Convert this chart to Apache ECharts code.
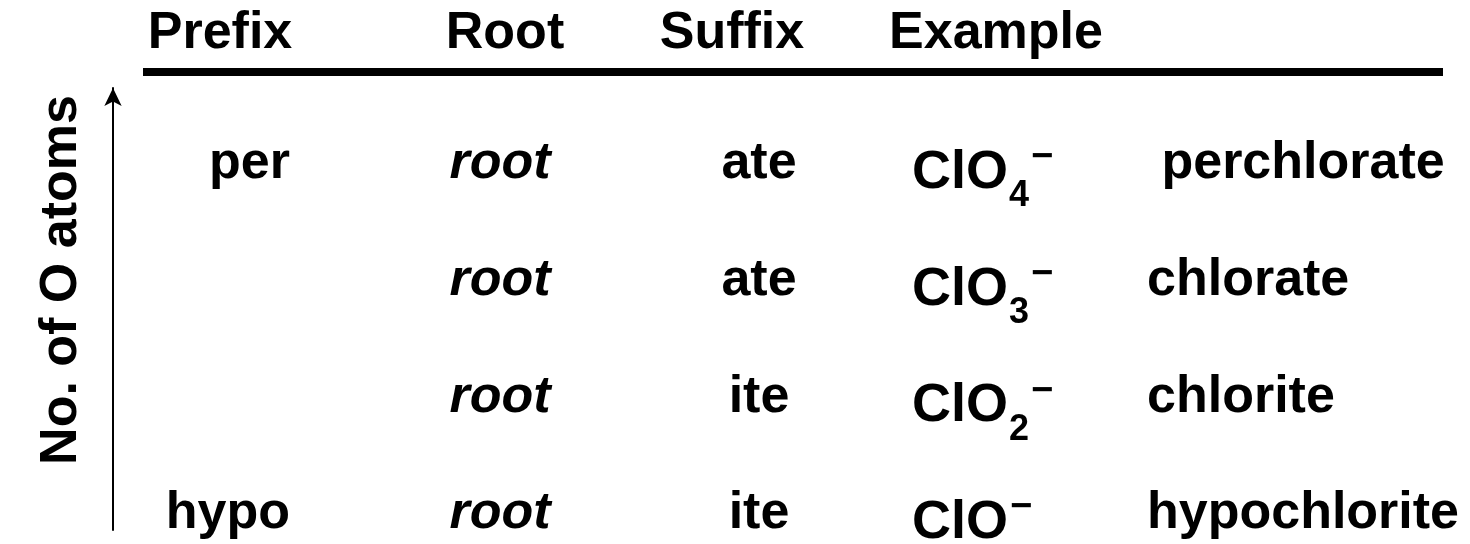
<!DOCTYPE html>
<html>
<head>
<meta charset="utf-8">
<script src="https://cdn.jsdelivr.net/npm/echarts@6/dist/echarts.min.js"></script>
<style>html,body{margin:0;padding:0;background:#fff}#c{width:1470px;height:544px}</style>
</head>
<body>
<div id="c"></div>
<script>
// ---- data ----
const columns = ['Prefix', 'Root', 'Suffix', 'Formula', 'Name'];
const headers = ['Prefix', 'Root', 'Suffix', 'Example', ''];
const oAtoms = ['1', '2', '3', '4'];              // rows, bottom to top
const prefixes = ['hypo', '', '', 'per'];
const roots = ['root', 'root', 'root', 'root'];
const suffixes = ['ite', 'ite', 'ate', 'ate'];
const formulaBase = ['ClO', 'ClO', 'ClO', 'ClO'];
const formulaSub = ['', '2', '3', '4'];
const charges = ['\u2212', '\u2212', '\u2212', '\u2212'];
const names = ['hypochlorite', 'chlorite', 'chlorate', ' perchlorate'];
const axisTitle = 'No. of O atoms';

// ---- style ----
const FONT = '"Liberation Sans", Arial, Helvetica, sans-serif';
const FS = 52;
const headerShift = { Prefix: 106, Root: 56, Suffix: 122, Example: 114 };

const chart = echarts.init(document.getElementById('c'));

const headerRich = {};
Object.keys(headerShift).forEach(k => {
  headerRich['h' + k] = { fontFamily: FONT, fontSize: FS, fontWeight: 'bold', color: '#000',
    padding: [0, headerShift[k], 0, 0] };
});

function colSeries(colIdx, texts, labelOpt) {
  return {
    type: 'scatter', xAxisIndex: 0, yAxisIndex: 0, symbolSize: 0, silent: true,
    itemStyle: { opacity: 1 },
    data: oAtoms.map((o, i) => ({ value: [columns[colIdx], o], txt: texts[i] })),
    label: Object.assign({
      show: true, position: 'inside', color: '#000', opacity: 1,
      fontFamily: FONT, fontSize: FS, fontWeight: 'bold',
      formatter: p => p.data.txt
    }, labelOpt)
  };
}

const formulas = oAtoms.map((o, i) =>
  '{b|' + formulaBase[i] + '}' + (formulaSub[i] ? '{s|' + formulaSub[i] + '}' : '') + '{c|' + charges[i] + '}');

const option = {
  backgroundColor: '#fff',
  animation: false,
  grid: [
    { left: 143, width: 1300, top: 164, height: 350 },
    { left: 113, width: 1, top: 88, height: 442 }
  ],
  xAxis: [
    {
      type: 'category', gridIndex: 0, data: columns, position: 'top', offset: 92,
      axisLine: { show: true, lineStyle: { color: '#000', width: 8, cap: 'butt' } },
      axisTick: { show: false }, splitLine: { show: false },
      axisLabel: {
        show: true, margin: 12, interval: 0,
        formatter: (v, i) => headers[i] ? '{h' + headers[i] + '|' + headers[i] + '}' : '',
        rich: headerRich
      }
    },
    { type: 'value', gridIndex: 1, show: false, min: 0, max: 1 }
  ],
  yAxis: [
    { type: 'category', gridIndex: 0, data: oAtoms, show: false, boundaryGap: false },
    {
      type: 'value', gridIndex: 1, min: 0, max: 1,
      axisLine: { show: true, symbol: ['none', 'arrow'], symbolSize: [13, 18],
        lineStyle: { color: '#000', width: 2 } },
      axisTick: { show: false }, axisLabel: { show: false }, splitLine: { show: false },
      name: axisTitle, nameLocation: 'middle', nameRotate: 90, nameGap: 25,
      nameTextStyle: { fontFamily: FONT, fontSize: FS, fontWeight: 'bold', color: '#000',
        padding: [0, 0, 0, 58] }
    }
  ],
  series: [
    colSeries(0, prefixes, { align: 'right', offset: [17, 0] }),
    colSeries(1, roots, { align: 'center', offset: [-33, 0], fontStyle: 'italic' }),
    colSeries(2, suffixes, { align: 'center', offset: [-34, 0] }),
    colSeries(3, formulas, { align: 'left', offset: [-141, 9],
      rich: {
        b: { fontFamily: FONT, fontSize: 54, fontWeight: 'bold', color: '#000', lineHeight: 52 },
        s: { fontFamily: FONT, fontSize: 36, fontWeight: 'bold', color: '#000', lineHeight: 36, padding: [47, 0, 0, 1] },
        c: { fontFamily: FONT, fontSize: 38, fontWeight: 'bold', color: '#000', lineHeight: 38, padding: [0, 0, 30, 2] }
      } }),
    colSeries(4, names, { align: 'left', offset: [-166, 0] })
  ]
};
chart.setOption(option);
</script>
</body>
</html>
